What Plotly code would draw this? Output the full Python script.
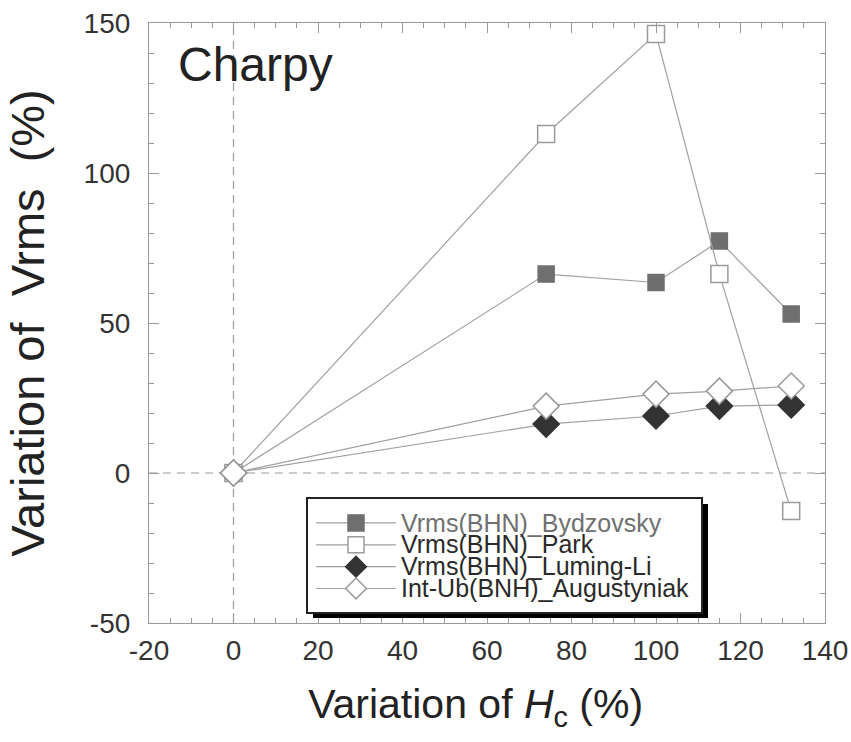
import plotly.graph_objects as go

x_vals = [0, 74, 100, 115, 132]
bydzovsky = [0, 66.3, 63.5, 77.3, 53]
park = [0, 113, 146.3, 66.3, -12.7]
luming_li = [0, 16.3, 19, 22.3, 22.7]
augustyniak = [0, 22.3, 26.3, 27.3, 29]

names = ["Vrms(BHN)_Bydzovsky", "Vrms(BHN)_Park", "Vrms(BHN)_Luming-Li", "Int-Ub(BNH)_Augustyniak"]
x_ticks = [-20, 0, 20, 40, 60, 80, 100, 120, 140]
x_ticktext = ["-20", "0", "20", "40", "60", "80", "100", "120", "140"]
y_ticks = [-50, 0, 50, 100, 150]
y_ticktext = ["-50", "0", "50", "100", "150"]

FONT = "Liberation Sans, Arial, Helvetica, sans-serif"
line_col = "#a0a0a0"
axis_col = "#9a9a9a"

# plot area in pixels
L, R, T, B = 149, 825, 23, 623
W, H = R - L, B - T


def px_x(p):
    return (p - L) / W


def px_y(p):
    return (B - p) / H


fig = go.Figure()


def add(y, name, symbol, fill, edge, size, txtcol="#2a2a2a"):
    fig.add_trace(go.Scatter(
        x=x_vals, y=y, mode="lines+markers",
        name=f'<span style="font-size:25px;baseline-shift:-3px;color:{txtcol}">{name}</span>',
        line=dict(color=line_col, width=1.2),
        marker=dict(symbol=symbol, size=size, color=fill, line=dict(color=edge, width=1.5)),
    ))


add(bydzovsky, names[0], "square", "#6f6f6f", "#6f6f6f", 16, "#707070")
add(park, names[1], "square", "white", "#9a9a9a", 17)
add(luming_li, names[2], "diamond", "#333333", "#333333", 20)
add(augustyniak, names[3], "diamond", "white", "#9a9a9a", 20)

axis_common = dict(
    showline=True, linecolor=axis_col, linewidth=1.2, mirror="allticks",
    ticks="inside", ticklen=10, tickcolor=axis_col, tickwidth=1.2,
    showgrid=False, zeroline=False, automargin=False,
    tickfont=dict(family=FONT, size=28, color="#333"),
)

fig.update_xaxes(range=[-20, 140], tickvals=x_ticks, ticktext=x_ticktext, ticklabelstandoff=2,
                 minor=dict(dtick=5, ticks="inside", ticklen=5, tickcolor=axis_col, tickwidth=1.2),
                 title=dict(text="Variation of <i>H</i><sub>c</sub> (%)&nbsp;&nbsp;",
                            font=dict(family=FONT, size=41, color="#222"),
                            standoff=24),
                 **axis_common)
fig.update_yaxes(range=[-50, 150], tickvals=y_ticks, ticktext=y_ticktext, ticklabelstandoff=12,
                 minor=dict(dtick=10, ticks="inside", ticklen=5, tickcolor=axis_col, tickwidth=1.2),
                 title=dict(text="Variation of  Vrms  (%)",
                            font=dict(family=FONT, size=47, color="#222"),
                            standoff=24),
                 **axis_common)

# dashed reference lines
fig.add_hline(y=0, line=dict(color=axis_col, width=1.2, dash="8px,6px"), layer="below")
fig.add_vline(x=0, line=dict(color=axis_col, width=1.2, dash="8px,6px"), layer="below")

# legend drop shadow and box
fig.add_shape(type="rect", xref="paper", yref="paper",
              x0=px_x(313), x1=px_x(708), y0=px_y(618), y1=px_y(504),
              fillcolor="black", line=dict(width=0), layer="above")
fig.add_shape(type="rect", xref="paper", yref="paper",
              x0=px_x(307), x1=px_x(702), y0=px_y(613), y1=px_y(498),
              fillcolor="white", line=dict(color="#222", width=2), layer="above")

fig.add_annotation(text="Charpy", xref="paper", yref="paper", x=px_x(176), y=px_y(64),
                   xanchor="left", yanchor="middle", showarrow=False,
                   font=dict(family=FONT, size=48, color="#222"))

fig.update_layout(
    width=851, height=742,
    margin=dict(l=L, r=851 - R, t=T, b=742 - B),
    paper_bgcolor="white", plot_bgcolor="white",
    showlegend=True,
    legend=dict(x=px_x(311), y=px_y(507), xanchor="left", yanchor="top",
                bgcolor="rgba(0,0,0,0)", borderwidth=0,
                font=dict(family=FONT, size=14.5, color="#222"),
                tracegroupgap=0, itemwidth=80),
)

fig.write_html("out.html")
